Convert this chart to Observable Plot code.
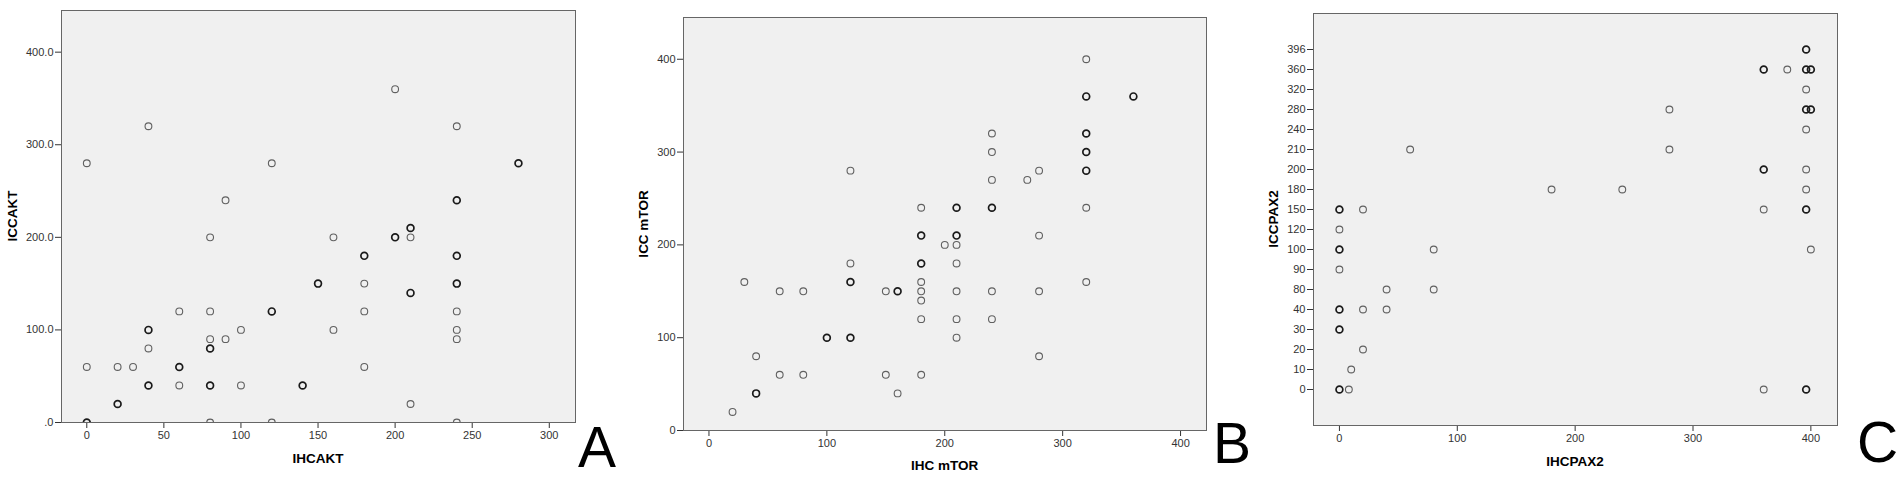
<!DOCTYPE html>
<html><head><meta charset="utf-8">
<script src="https://cdn.jsdelivr.net/npm/d3@7"></script>
<script src="https://cdn.jsdelivr.net/npm/@observablehq/plot@0.6"></script>
<style>
body{margin:0;background:#fff;}
#wrap{position:relative;width:1901px;height:478px;overflow:hidden;font-family:"Liberation Sans",Arial,sans-serif;}
#wrap > svg{position:absolute;top:0;}
</style></head><body><div id="wrap"></div>
<script>
// ---- Panel A: IHCAKT vs ICCAKT ----
const xA = [0,0,0,0,40,40,40,40,40,40,20,20,20,30,60,60,60,60,80,80,80,80,80,80,80,80,90,90,100,100,120,120,120,120,140,140,150,150,160,160,180,180,180,180,180,200,200,200,210,210,210,210,210,210,240,240,240,240,240,240,240,240,240,240,240,280,280];
const yA = [280,60,0,0,320,100,100,80,40,40,60,20,20,60,120,60,60,40,200,120,90,80,80,40,40,0,240,90,100,40,280,120,120,0,40,40,150,150,200,100,180,180,150,120,60,360,200,200,210,210,200,140,140,20,320,240,240,180,180,150,150,120,100,90,0,280,280];
const xTicksA = [0,50,100,150,200,250,300];
const yTicksA = [0,100,200,300,400];
const yTickLabelsA = [".0","100.0","200.0","300.0","400.0"];

// ---- Panel B: IHC mTOR vs ICC mTOR ----
const xB = [20,30,40,40,40,60,60,80,80,100,100,120,120,120,120,120,120,150,150,160,160,160,180,180,180,180,180,180,180,180,180,180,200,210,210,210,210,210,210,210,210,210,240,240,240,240,240,240,240,270,280,280,280,280,320,320,320,320,320,320,320,320,320,320,320,320,360,360];
const yB = [20,160,80,40,40,150,60,150,60,100,100,280,180,160,160,100,100,150,60,150,150,40,240,210,210,180,180,160,150,140,120,60,200,240,240,210,210,200,180,150,120,100,320,300,270,240,240,150,120,270,280,210,150,80,400,360,360,320,320,320,300,300,280,280,240,160,360,360];
const xTicksB = [0,100,200,300,400];
const yTicksB = [0,100,200,300,400];

// ---- Panel C: IHCPAX2 vs ICCPAX2 (categorical y) ----
const xC = [0,0,0,0,0,0,0,0,0,0,0,0,8,10,20,20,20,40,40,60,80,80,180,240,280,280,360,360,360,360,360,360,380,396,396,396,396,400,400,396,396,396,400,400,396,396,396,396,396,400,396,396];
const yC = [150,150,120,100,100,90,40,40,30,30,0,0,0,10,150,40,20,80,40,210,100,80,180,180,280,210,360,360,200,200,150,0,360,396,396,360,360,360,360,320,280,280,280,280,240,200,180,150,150,100,0,0];
const xTicksC = [0,100,200,300,400];
const yCategoriesC = [396,360,320,280,240,210,200,180,150,120,100,90,80,40,30,20,10,0];

// ---- titles ----
const yTitles = ["ICCAKT","ICC mTOR","ICCPAX2"];
const xTitles = ["IHCAKT","IHC mTOR","IHCPAX2"];
const panelLetters = ["A","B","C"];

function group(xs, ys){
  const m = d3.rollup(xs.map((x,i)=>({x, y: ys[i]})), v => ({x:v[0].x, y:v[0].y, n:v.length}), d => d.x + "," + d.y);
  return Array.from(m.values());
}

const font = '"Liberation Sans", Arial, sans-serif';
function dots(data){
  return Plot.dot(data, {x:"x", y:"y", r:3.4, fill:"none", clip:true,
    stroke: d => d.n > 1 ? "#1a1a1a" : "#606060",
    strokeWidth: d => d.n > 1 ? 1.7 : 1.1});
}
function common(width, ml, mr, mt, mb){
  return {width, height:478, marginLeft:ml, marginRight:mr, marginTop:mt, marginBottom:mb,
    style:{fontFamily:font, fontSize:"11px", color:"#333", background:"transparent", overflow:"visible"}};
}

const wrap = document.getElementById("wrap");

const pA = Plot.plot({
  ...common(600, 61, 25, 10, 56),
  x:{domain:[-16.4,317], ticks:xTicksA, tickSize:6, tickPadding:3, label:null},
  y:{domain:[0,445], ticks:yTicksA, tickSize:6, tickPadding:2, label:null,
     tickFormat: d => yTickLabelsA[yTicksA.indexOf(d)]},
  marks:[Plot.frame({fill:"#f0f0f0"}), dots(group(xA,yA)), Plot.frame({stroke:"#666"})]
});
pA.style.left = "0px";
wrap.appendChild(pA);

const pB = Plot.plot({
  ...common(600, 63, 14, 17, 48),
  x:{domain:[-21.6,422], ticks:xTicksB, tickSize:6, tickPadding:3, label:null},
  y:{domain:[0,445], ticks:yTicksB, tickSize:6, tickPadding:2, label:null},
  marks:[Plot.frame({fill:"#f0f0f0"}), dots(group(xB,yB)), Plot.frame({stroke:"#666"})]
});
pB.style.left = "620px";
wrap.appendChild(pB);

const pC = Plot.plot({
  ...common(600, 63, 13, 13, 53),
  x:{domain:[-22,422.6], ticks:xTicksC, tickSize:6, tickPadding:3, label:null},
  y:{type:"point", domain:yCategoriesC, padding:1.5, tickSize:6, tickPadding:2, label:null},
  marks:[Plot.frame({fill:"#f0f0f0"}), dots(group(xC,yC)), Plot.frame({stroke:"#666"})]
});
pC.style.left = "1250px";
wrap.appendChild(pC);

// overlay for axis titles and panel letters
const ns = "http://www.w3.org/2000/svg";
const ov = document.createElementNS(ns, "svg");
ov.setAttribute("width", 1901); ov.setAttribute("height", 478);
ov.style.left = "0px";
wrap.appendChild(ov);
function txt(s, x, y, opts){
  const t = document.createElementNS(ns, "text");
  t.textContent = s;
  t.setAttribute("x", x); t.setAttribute("y", y);
  t.setAttribute("font-family", font);
  for (const k in opts) t.setAttribute(k, opts[k]);
  ov.appendChild(t);
}
const yT = [[12,216],[643.5,224],[1273.5,219]];
const xT = [[318,458],[944.6,465],[1575,461]];
const L = [[578,467],[1213,463],[1857,462]];
for (let i=0;i<3;i++){
  txt(yTitles[i], 0, 0, {"font-size":13.5, "font-weight":"bold", "text-anchor":"middle", "dominant-baseline":"central",
    transform:`translate(${yT[i][0]},${yT[i][1]}) rotate(-90)`});
  txt(xTitles[i], xT[i][0], xT[i][1], {"font-size":13.5, "font-weight":"bold", "text-anchor":"middle", "dominant-baseline":"central"});
  txt(panelLetters[i], L[i][0], L[i][1], {"font-size":57, "text-anchor":"start", fill:"#000"});
}
</script></body></html>
